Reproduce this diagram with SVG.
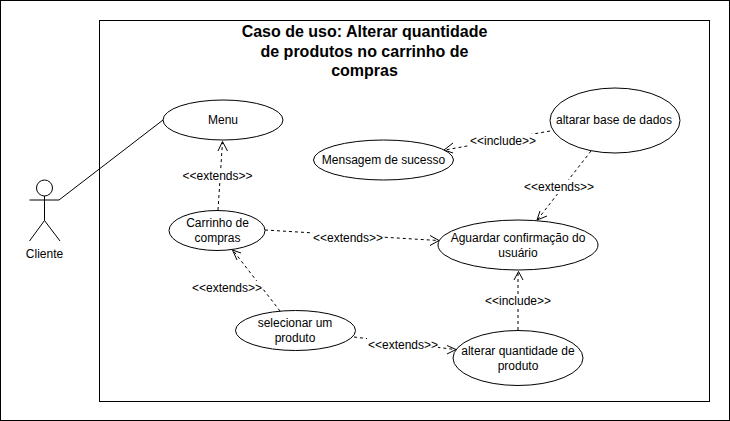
<svg xmlns="http://www.w3.org/2000/svg" width="730" height="421" viewBox="0 0 730 421">
<style>
text{font-family:"Liberation Sans",Arial,sans-serif;font-size:12px;fill:#000;text-anchor:middle}
.n{fill:#fff;stroke:#000;stroke-width:1}
.c{fill:none;stroke:#000;stroke-width:1;stroke-dasharray:3 3}
.a{fill:none;stroke:#000;stroke-width:1}
.l{fill:#fff;stroke:none}
.t{font-size:16px;font-weight:bold}
</style>
<rect x="0.5" y="0.5" width="729" height="420" fill="#fff" stroke="#000"/>
<rect x="99.500" y="20.500" width="610" height="381" fill="#fff" stroke="#000"/>
<g id="title"><text class="t" x="364.500" y="37">Caso de uso: Alterar quantidade</text><text class="t" x="364.500" y="56.500">de produtos no carrinho de</text><text class="t" x="364.500" y="76">compras</text></g>
<g id="connectors">
<path class="a" d="M59 200L163 120"/>
<path class="c" d="M218 210L222.500 142"/><path class="a" d="M218 151L222.500 141.500L227.500 151"/>
<path class="c" d="M265 230L438 240.500"/><path class="a" d="M430 235.500L439 240.500L430 245.500"/>
<path class="c" d="M280 311L233.500 251"/><path class="a" d="M241 253L232.500 250L237 260"/>
<path class="c" d="M354 337L455 349.500"/><path class="a" d="M447 345.500L456 349.500L447 354"/>
<path class="c" d="M518 330L518 272"/><path class="a" d="M514 280L518.500 271.500L523 280"/>
<path class="c" d="M591 151L538 219"/><path class="a" d="M547 216L537 220L540 211"/>
<path class="c" d="M550 131L445 150"/><path class="a" d="M453 143L444 150L453 153"/>
<rect class="l" x="183" y="169" width="69" height="14"/><rect class="l" x="313" y="231" width="71" height="14"/>
<rect class="l" x="192" y="281" width="70" height="14"/><rect class="l" x="367" y="338" width="71" height="14"/>
<rect class="l" x="485" y="294" width="66" height="14"/><rect class="l" x="524" y="180" width="70" height="14"/>
<rect class="l" x="470" y="134" width="67" height="14"/>
<text x="217.500" y="180">&lt;&lt;extends&gt;&gt;</text><text x="348" y="242">&lt;&lt;extends&gt;&gt;</text>
<text x="227" y="292">&lt;&lt;extends&gt;&gt;</text><text x="403" y="349">&lt;&lt;extends&gt;&gt;</text>
<text x="518" y="305">&lt;&lt;include&gt;&gt;</text><text x="559" y="191">&lt;&lt;extends&gt;&gt;</text>
<text x="503" y="145">&lt;&lt;include&gt;&gt;</text>
</g>
<g id="cliente"><circle class="n" cx="44.500" cy="188" r="8"/><path class="a" d="M44.500 196V220.500M29.500 200H59M44.500 220.500L29.500 241M44.500 220.500L60 241"/><text x="44.500" y="258">Cliente</text></g>
<g id="menu"><ellipse class="n" cx="223" cy="120" rx="60" ry="20"/><text x="223" y="124">Menu</text></g>
<g id="carrinho"><ellipse class="n" cx="217" cy="230.500" rx="48" ry="20"/><text x="217.500" y="227">Carrinho de</text><text x="217.500" y="242">compras</text></g>
<g id="selecionar"><ellipse class="n" cx="295.500" cy="330.500" rx="60" ry="20"/><text x="295" y="327">selecionar um</text><text x="295" y="342">produto</text></g>
<g id="alterar"><ellipse class="n" cx="518" cy="358" rx="65" ry="27.500"/><text x="518" y="355">alterar quantidade de</text><text x="518" y="370">produto</text></g>
<g id="aguardar"><ellipse class="n" cx="518" cy="245" rx="80" ry="25"/><text x="518" y="242">Aguardar confirmação do</text><text x="518" y="257">usuário</text></g>
<g id="mensagem"><ellipse class="n" cx="383.500" cy="160" rx="70" ry="20"/><text x="383.500" y="164">Mensagem de sucesso</text></g>
<g id="base"><ellipse class="n" cx="615" cy="120.500" rx="65" ry="32.500"/><text x="614" y="124">altarar base de dados</text></g>
</svg>
